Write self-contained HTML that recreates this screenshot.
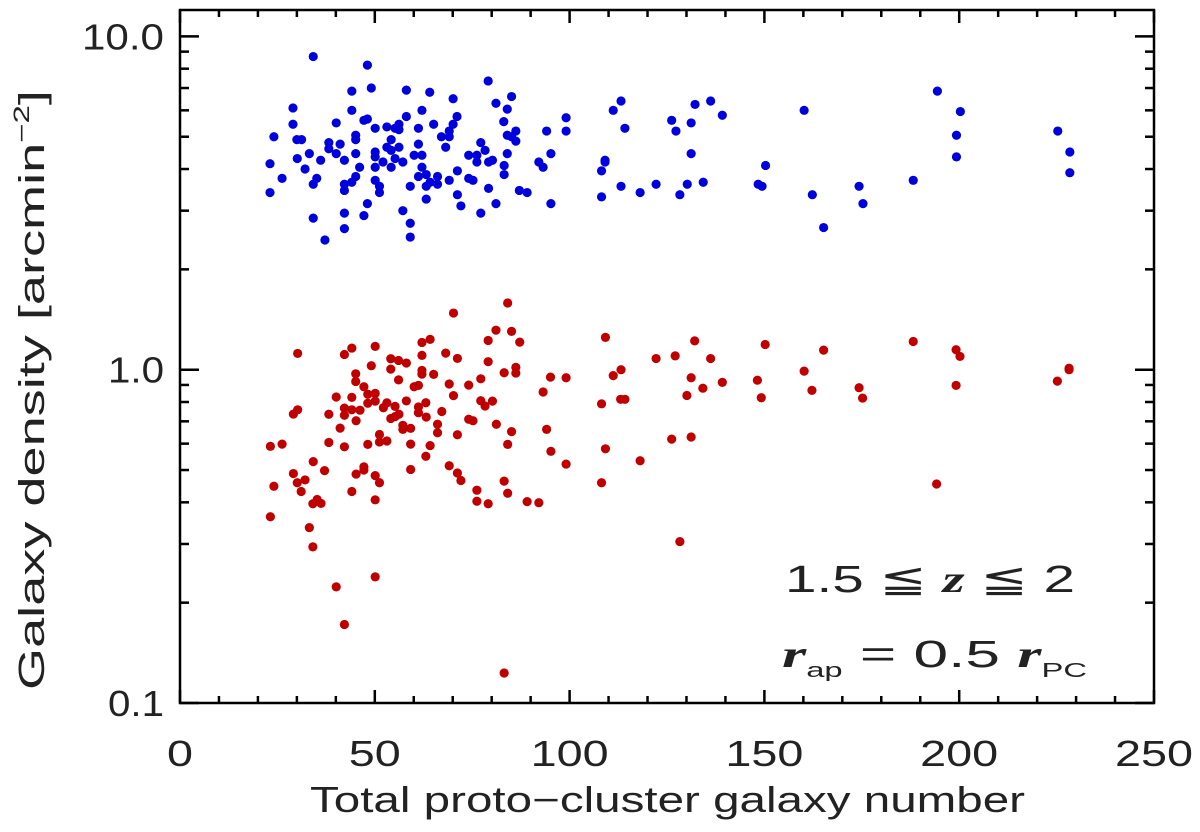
<!DOCTYPE html>
<html><head><meta charset="utf-8"><style>
html,body{margin:0;padding:0;background:#fff;}
svg{display:block;font-family:"Liberation Sans",sans-serif;}
</style></head><body>
<svg id="chart" width="1200" height="832" viewBox="0 0 1200 832" xmlns="http://www.w3.org/2000/svg">
<g id="ticks"></g>
<g id="blue"></g>
<g id="red"></g>
<rect x="180" y="10" width="974" height="693" fill="none" stroke="#000" stroke-width="2.5"/>
<g id="labels" font-size="36" fill="#222"></g>
<text x="310" y="812" font-size="36" textLength="715" lengthAdjust="spacingAndGlyphs" fill="#222">Total proto−cluster galaxy number</text>
<text transform="translate(44,690) rotate(-90)" font-size="36" fill="#222" textLength="600" lengthAdjust="spacingAndGlyphs">Galaxy density  [arcmin<tspan dy="-15" font-size="22">−2</tspan><tspan dy="15">]</tspan></text>
<text x="785" y="592" font-size="38" textLength="290" lengthAdjust="spacingAndGlyphs" fill="#222">1.5 ≦ <tspan font-family="Liberation Serif" font-style="italic" font-weight="bold">z</tspan> ≦ 2</text>
<text x="782" y="667" font-size="38" textLength="305" lengthAdjust="spacingAndGlyphs" fill="#222"><tspan font-family="Liberation Serif" font-style="italic" font-weight="bold">r</tspan><tspan font-size="20" dy="10">ap</tspan><tspan dy="-10"> = 0.5 </tspan><tspan font-family="Liberation Serif" font-style="italic" font-weight="bold">r</tspan><tspan font-size="20" dy="10">PC</tspan></text>
</svg>
<script>
const blueX=[34.2,48.1,79.1,44.1,49.1,58.1,64.1,70.1,29.0,44.1,81.1,85.1,84.0,62.1,71.1,58.1,47.2,48.1,40.1,29.0,83.1,99.1,99.1,65.1,70.1,50.1,53.1,55.2,56.2,56.2,61.2,69.1,67.1,69.1,94.1,24.1,30.0,31.2,45.1,45.1,54.2,84.0,86.2,85.1,86.2,38.2,38.2,41.1,61.2,77.2,53.1,54.2,56.2,68.2,78.3,33.2,40.1,45.1,50.1,50.1,60.1,62.1,74.1,76.2,84.0,95.2,30.1,42.2,36.1,55.2,57.2,52.1,76.2,79.2,80.2,92.1,93.2,23.1,32.1,46.1,50.1,54.2,62.1,83.2,26.2,34.2,35.1,42.2,42.2,44.1,45.1,50.1,51.2,51.2,61.2,63.2,63.2,64.2,66.1,66.1,59.1,69.1,71.2,74.1,75.2,79.2,83.2,87.1,89.1,23.1,71.2,63.2,48.1,57.2,72.1,81.1,95.2,42.2,47.2,77.2,34.2,42.2,59.1,59.1,37.2,
113.2,111.2,114.2,109.1,109.1,108.2,108.2,113.2,118.1,122.2,126.2,127.3,131.2,131.2,132.2,136.2,139.2,128.3,130.2,134.3,150.3,148.4,149.4,160.2,162.3,165.2,174.3,175.3,188.2,194.4,200.3,199.3,199.3,225.3,228.4,228.4];
const blueY=[8.7,8.2,7.35,6.85,7.0,6.9,6.8,6.5,6.1,6.0,6.3,6.6,6.05,6.0,5.75,5.75,5.6,5.65,5.5,5.45,5.55,5.7,5.2,5.45,5.45,5.3,5.35,5.3,5.25,5.45,5.3,5.2,5.0,5.0,5.2,5.0,4.9,4.9,5.05,4.9,4.9,5.05,5.2,5.0,4.85,4.8,4.6,4.75,4.75,4.8,4.65,4.55,4.65,4.65,4.55,4.45,4.45,4.45,4.5,4.35,4.4,4.4,4.4,4.4,4.45,4.45,4.3,4.25,4.25,4.3,4.2,4.2,4.2,4.2,4.25,4.2,4.05,4.15,4.0,4.05,4.05,4.05,4.05,4.1,3.75,3.6,3.75,3.6,3.45,3.65,3.8,3.7,3.55,3.4,3.8,3.85,3.55,3.65,3.8,3.6,3.55,3.7,3.95,3.75,3.7,3.5,3.85,3.45,3.4,3.4,3.35,3.25,3.15,3.0,3.1,3.15,3.15,2.95,2.9,2.95,2.85,2.65,2.75,2.5,2.45,
6.4,6.0,5.3,4.25,4.2,3.95,3.3,3.55,3.4,3.6,5.6,5.2,5.5,4.45,6.25,6.4,5.8,3.35,3.6,3.65,4.1,3.6,3.55,6.0,3.35,2.67,3.55,3.15,3.7,6.85,5.95,5.05,4.35,5.2,4.5,3.9];
const redX=[84.1,70.2,81.1,85.1,79.1,87.2,64.2,62.1,50.1,44.1,42.2,30.2,54.1,56.1,58.1,62.1,68.2,71.2,79.1,49.1,54.1,62.1,62.1,65.1,86.2,86.2,83.2,95.1,99.1,93.2,77.2,74.1,69.1,70.2,56.1,45.1,45.1,47.2,48.2,50.1,48.2,50.1,60.1,61.2,40.1,44.1,58.1,63.1,77.2,78.3,80.2,42.2,44.1,46.2,42.2,52.2,53.1,55.2,54.1,55.2,56.2,61.2,61.2,63.2,67.2,29.1,30.2,38.2,45.2,41.1,57.2,57.2,59.2,66.1,66.1,74.1,75.2,81.2,85.1,94.1,71.2,51.2,51.2,53.1,48.2,38.2,42.2,59.2,64.2,63.1,84.1,95.2,99.1,23.2,26.2,34.2,37.1,29.1,32.1,30.1,24.1,31.1,34.1,35.2,36.2,45.2,47.2,47.2,50.1,51.2,44.1,50.1,59.2,69.1,71.2,72.1,76.2,76.2,79.1,83.2,84.1,89.1,92.1,
23.2,33.2,34.1,50.1,40.1,42.2,83.2,
109.2,113.2,111.2,108.2,113.1,114.2,122.2,127.1,132.1,136.2,131.2,134.2,130.1,139.2,150.2,148.2,149.2,160.2,165.2,162.2,174.3,175.2,188.2,199.2,200.2,199.2,228.2,228.2,225.2,109.2,108.2,118.1,126.2,131.2,194.2,128.3];
const redY=[1.585,1.479,1.314,1.303,1.224,1.21,1.233,1.207,1.175,1.161,1.111,1.119,1.079,1.066,1.047,1.104,1.121,1.081,1.057,1.028,1.004,0.995,0.970,0.968,1.016,0.977,0.979,0.950,0.946,0.857,0.939,0.899,0.906,0.836,0.932,0.972,0.922,0.889,0.844,0.849,0.793,0.805,0.889,0.897,0.828,0.826,0.806,0.796,0.807,0.778,0.805,0.767,0.758,0.756,0.730,0.769,0.795,0.776,0.714,0.723,0.735,0.773,0.743,0.721,0.749,0.736,0.758,0.735,0.703,0.668,0.681,0.662,0.667,0.686,0.647,0.710,0.703,0.686,0.652,0.662,0.638,0.639,0.607,0.611,0.597,0.605,0.587,0.598,0.592,0.550,0.597,0.569,0.521,0.589,0.598,0.530,0.498,0.488,0.467,0.458,0.447,0.431,0.396,0.408,0.397,0.486,0.511,0.500,0.481,0.458,0.431,0.407,0.502,0.515,0.490,0.465,0.435,0.403,0.396,0.463,0.426,0.402,0.399,
0.362,0.336,0.294,0.239,0.223,0.172,0.123,
1.25,1.00,0.96,0.79,0.815,0.815,1.08,1.10,1.22,1.08,0.946,0.88,0.837,0.916,1.19,0.93,0.824,0.99,1.145,0.867,0.883,0.822,1.215,1.148,1.096,0.897,1.0,1.01,0.924,0.579,0.458,0.533,0.619,0.628,0.454,0.305];
const xTickLabels=[0,50,100,150,200,250];
const yTickLabels=["0.1","1.0","10.0"];
const yTickValues=[0.1,1,10];

const NS="http://www.w3.org/2000/svg";
const L=180,R=1154,T=10,B=703;
const xmin=0,xmax=250,lymin=-1,lymax=Math.log10(12.0);
function sx(v){return L+(v-xmin)/(xmax-xmin)*(R-L);}
function sy(v){return B-(Math.log10(v)-lymin)/(lymax-lymin)*(B-T);}
function mk(tag,attrs,parent){const e=document.createElementNS(NS,tag);for(const k in attrs)e.setAttribute(k,attrs[k]);parent.appendChild(e);return e;}

const tg=document.getElementById('ticks');
for(let v=0;v<=250;v+=10){
  const major=v%50===0;const len=major?13:7;const x=sx(v);
  const t1=mk('line',{x1:x,x2:x,y1:B,y2:B-len,stroke:'#000','stroke-width':2.5},tg);
  
  
  const t2=mk('line',{x1:x,x2:x,y1:T,y2:T+len,stroke:'#000','stroke-width':2.5},tg);
  
  
}
for(let d=-1;d<=1;d++){
  for(let m=1;m<=9;m++){
    const v=m*Math.pow(10,d);if(v>12)continue;
    const y=sy(v);const len=m===1?19:9;
    const t1=mk('line',{x1:L,x2:L+len,y1:y,y2:y,stroke:'#000','stroke-width':2.5},tg);
    
    
    const t2=mk('line',{x1:R,x2:R-len,y1:y,y2:y,stroke:'#000','stroke-width':2.5},tg);
    
    
  }
}
const lg=document.getElementById('labels');
xTickLabels.forEach(v=>{
  const s=String(v);
  const w=s.length*26;
  const t=mk('text',{x:sx(v)-w/2,y:766,textLength:w,lengthAdjust:'spacingAndGlyphs'},lg);t.textContent=s;
  
  
});
yTickLabels.forEach((s,i)=>{
  const w=s.length===4?82:56;
  const t=mk('text',{x:164-w,y:sy(yTickValues[i])+13,textLength:w,lengthAdjust:'spacingAndGlyphs'},lg);t.textContent=s;
  
  
});
const bg=document.getElementById('blue');
blueX.forEach((x,i)=>{
  const c=mk('circle',{cx:sx(x),cy:sy(blueY[i]),r:4.6,fill:'#0000dc'},bg);
  
  
});
const rg=document.getElementById('red');
redX.forEach((x,i)=>{
  const c=mk('circle',{cx:sx(x),cy:sy(redY[i]),r:4.6,fill:'#c00000'},rg);
  
  
});
</script>
</body></html>
